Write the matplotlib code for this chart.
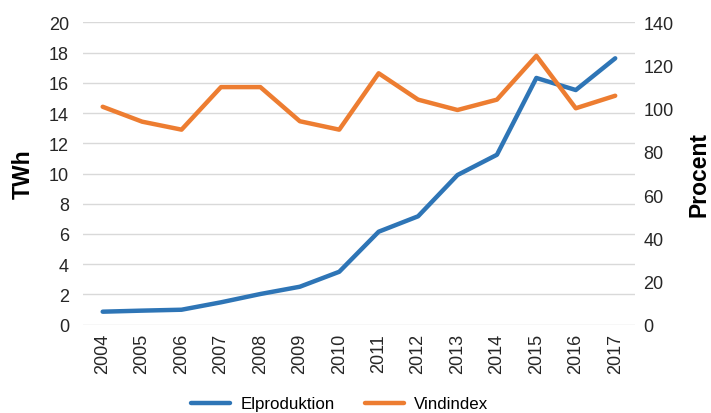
import matplotlib
matplotlib.use('Agg')
import matplotlib.pyplot as plt

years = ['2004', '2005', '2006', '2007', '2008', '2009', '2010',
         '2011', '2012', '2013', '2014', '2015', '2016', '2017']
elproduktion = [0.86, 0.93, 0.99, 1.48, 2.03, 2.51, 3.5,
                6.15, 7.17, 9.9, 11.24, 16.32, 15.52, 17.62]  # TWh
vindindex = [100.9, 94.0, 90.3, 110.0, 110.0, 94.2, 90.3,
             116.4, 104.2, 99.4, 104.2, 124.5, 100.2, 106.0]  # procent

plt.rcParams['font.family'] = ['Liberation Sans', 'DejaVu Sans']

fig = plt.figure(figsize=(7.11, 4.14), dpi=100)
ax = fig.add_axes([0.1167, 0.2133, 0.7763, 0.7304])
ax2 = ax.twinx()

x = list(range(len(years)))
l1, = ax.plot(x, elproduktion, color='#2E75B6', lw=3.2, solid_capstyle='round', zorder=3)
l2, = ax2.plot(x, vindindex, color='#ED7D31', lw=3.2, solid_capstyle='round', zorder=3)

ax.set_xlim(-0.5, len(years) - 0.5)
ax.set_ylim(0, 20)
ax.set_yticks(range(0, 21, 2))
ax2.set_ylim(0, 140)
ax2.set_yticks(range(0, 141, 20))
ax.set_xticks(x)
ax.set_xticklabels(years, rotation=90)

ax.grid(axis='y', color='#d9d9d9', lw=1)
ax.set_axisbelow(True)
for a in (ax, ax2):
    for s in a.spines.values():
        s.set_visible(False)
    a.tick_params(length=0, labelsize=13, colors='#262626')
ax.tick_params(axis='y', pad=10)
ax2.tick_params(axis='y', pad=6)
ax.tick_params(axis='x', pad=6)

ax.set_ylabel('TWh', fontsize=16.5, fontweight='bold', labelpad=10)
ax2.set_ylabel('Procent', fontsize=16.5, fontweight='bold', labelpad=10)

fig.legend([l1, l2], ['Elproduktion', 'Vindindex'], loc='center',
           bbox_to_anchor=(0.478, 1 - 405 / 414), ncol=2, frameon=False, fontsize=12.2,
           handlelength=2.3, handletextpad=0.6, columnspacing=1.8)

fig.savefig('out.png', dpi=100)
